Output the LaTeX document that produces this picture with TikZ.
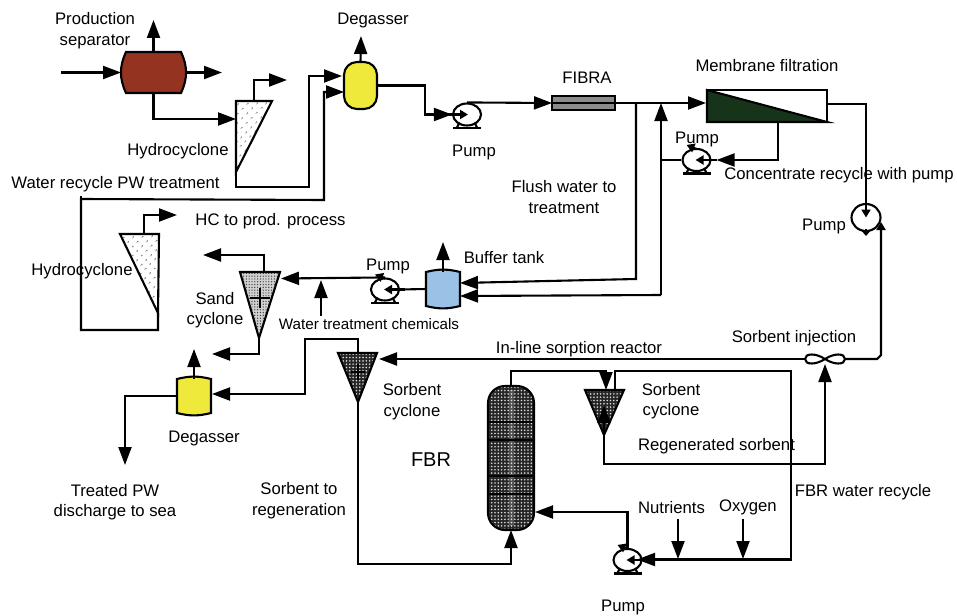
\documentclass[tikz,border=0pt]{standalone}
\usepackage{fontspec}
\setmainfont{Liberation Sans}
\usetikzlibrary{arrows.meta, calc, patterns.meta, shapes.geometric}
\definecolor{sepbrown}{HTML}{943420}
\definecolor{gasyellow}{HTML}{EFE93C}
\definecolor{tankblue}{HTML}{9AC2E6}
\definecolor{membgreen}{HTML}{17341A}
\definecolor{fibragray}{HTML}{8C8C8C}
\tikzset{%
  pipe/.style={line width=2.1pt},
  flow/.style={pipe, -{Triangle[length=18pt,width=13pt]}},
  smallflow/.style={pipe, -{Triangle[length=8pt,width=9pt]}},
  label/.style={font=\fontsize{16.7}{20.5}\selectfont, align=center, inner sep=0pt, yshift=-2pt, text height=12pt, text depth=3.5pt},
  label2/.style={font=\fontsize{16.7}{20.5}\selectfont, align=center, inner sep=0pt},
  unit/.style={rectangle, inner sep=0pt, outer sep=0pt, minimum width=#1},
  sparsedots/.style={pattern={Dots[distance=6.5pt,radius=0.8pt,angle=45]}, pattern color=black!80},
  finedots/.style={preaction={fill=black!18}, pattern={Dots[distance=2.8pt,radius=0.7pt]}, pattern color=black!75},
  darkdots/.style={preaction={fill=black!85}, pattern={Dots[distance=3.3pt,radius=0.9pt]}, pattern color=white!85!black},
}

\begin{document}
\begin{tikzpicture}[x=1pt, y=-1pt]
    \useasboundingbox (0,0) rectangle (957,615);

    %equipment boxes
    \node[unit=65, minimum height=41] (sep) at (153.5,72.5) {};
    \node[unit=33, minimum height=47] (deg1) at (360.5,85.5) {};
    \node[unit=34, minimum height=34] (deg2) at (194,396) {};
    \node[unit=34, minimum height=34] (tank) at (443,289) {};
    \node[unit=63, minimum height=14, draw, line width=2.4pt, fill=fibragray] (fibra) at (583.5,103) {};
    \node[unit=120, minimum height=32, draw, pipe] (memb) at (767,106) {};
    \node[unit=40, minimum height=10] (mix) at (825,359) {};
    \node[unit=46, minimum height=144] (fbr) at (511,458) {};

    %vessels
    \draw[pipe, fill=sepbrown] ($(sep.north west)+(5,0)$) -- ($(sep.north east)+(-5,0)$)
        to[bend left=25] ($(sep.south east)+(-5,0)$) -- ($(sep.south west)+(5,0)$)
        to[bend left=25] cycle;
    \draw[pipe, fill=gasyellow, rounded corners=13pt] (deg1.north west) rectangle (deg1.south east);
    \foreach \tag/\col in {deg2/gasyellow, tank/tankblue}
        \draw[pipe, fill=\col] (\tag.north west) to[bend left=14] (\tag.north east) -- (\tag.south east)
            to[bend left=14] (\tag.south west) -- cycle;
    \draw[pipe, darkdots, rounded corners=17pt] (fbr.north west) rectangle (fbr.south east);
    \fill[white, opacity=0.2] (508.5,390) rectangle (513.5,526);
    \foreach \level in {422,440,476,494}
        \draw[line width=1.2pt] (488,\level) -- (534,\level);

    %membrane and fibra
    \draw[pipe, fill=membgreen] (memb.north west) -- (memb.south east) -- (memb.south west) -- cycle;
    \draw[line width=2pt] (fibra.west) -- (fibra.east);

    %cyclones
    \coordinate (hca1) at (236,101);
    \coordinate (hca2) at (272,101);
    \coordinate (hca3) at (236,172);
    \coordinate (hcb1) at (120,234);
    \coordinate (hcb2) at (159,234);
    \coordinate (hcb3) at (158,313);
    \coordinate (sand1) at (240,272);
    \coordinate (sand2) at (280,272);
    \coordinate (sand3) at (259,338);
    \coordinate (sca1) at (338,353);
    \coordinate (sca2) at (377,353);
    \coordinate (sca3) at (358,402);
    \coordinate (scb1) at (585,390);
    \coordinate (scb2) at (624,390);
    \coordinate (scb3) at (604,435);
    \draw[pipe, sparsedots] (hca1) -- (hca2) -- (hca3) -- cycle;
    \draw[pipe, sparsedots] (hcb1) -- (hcb2) -- (hcb3) -- cycle;
    \draw[pipe, finedots] (sand1) -- (sand2) -- (sand3) -- cycle;
    \draw[pipe, darkdots] (sca1) -- (sca2) -- (sca3) -- cycle;
    \draw[pipe, darkdots] (scb1) -- (scb2) -- (scb3) -- cycle;
    \draw[line width=1.3pt] (250,298) -- (270,298) (260,288) -- (260,308);
    \draw[line width=1.3pt] (351,372) -- (365,372) (358,364) -- (358,380);

    %pumps
    \foreach \tag/\px/\py/\dir in {pumpa/467/114.5/1, pumpb/696.5/160/-1, pumpc/385/289.5/-1, pumpd/627.5/560/-1}{
        \node[ellipse, draw, pipe, inner sep=0pt, minimum width=28, minimum height=22] (\tag) at (\px,\py) {};
        \draw[line width=2.4pt] ($(\tag.center)+(-14,13.5)$) -- ($(\tag.center)+(14,13.5)$);
        \draw[pipe] ($(\tag.center)+(-8,9)$) -- ($(\tag.center)+(-10,13)$) ($(\tag.center)+(8,9)$) -- ($(\tag.center)+(10,13)$);
        \draw[smallflow] ($(\tag.center)+(-\dir*20,0)$) -- ($(\tag.center)+(\dir*1,0)$);
    }
    \foreach \tag in {pumpb, pumpc, pumpd}
        \draw[smallflow] ($(\tag.north)+(0,1)$) -- ($(\tag.north)+(-10,-3)$);
    \node[ellipse, draw, pipe, inner sep=0pt, minimum width=29, minimum height=27] (pumpe) at (866,217.5) {};

    %free ends and bends
    \coordinate (feed) at (61,72.5);
    \coordinate (septop) at (153.5,20);
    \coordinate (sepout) at (222,72.5);
    \coordinate (hcain) at (236,119);
    \coordinate (hcatop) at (254,101);
    \coordinate (hcaout) at (287,80);
    \coordinate (hcalow) at (309,187);
    \coordinate (deg1ina) at (342,76);
    \coordinate (deg1inb) at (344,92);
    \coordinate (deg1top) at (361,36);
    \coordinate (deg1low) at (425,114.5);
    \coordinate (rclow) at (81,330);
    \coordinate (rctop) at (81,199);
    \coordinate (rcstub) at (81,196);
    \coordinate (rcbend) at (324,200);
    \coordinate (hcbtop) at (144,234);
    \coordinate (hcbout) at (177,215);
    \coordinate (membin) at (706,103);
    \coordinate (flushtop) at (636,103);
    \coordinate (flushlow) at (636,279);
    \coordinate (tankina) at (460,283);
    \coordinate (tanktop) at (443,242);
    \coordinate (conctop) at (661,103);
    \coordinate (conclow) at (661,295);
    \coordinate (tankinb) at (460,296);
    \coordinate (memblow) at (778,122);
    \coordinate (membout) at (827,104);
    \coordinate (pumpeout) at (881,222);
    \coordinate (mixbend) at (881,355);
    \coordinate (mixright) at (877,359);
    \coordinate (scain) at (379,359);
    \coordinate (scatop) at (358,353);
    \coordinate (scabend) at (305,339);
    \coordinate (deg2in) at (212,394);
    \coordinate (deg2top) at (194,349);
    \coordinate (seaout) at (125,465);
    \coordinate (regen) at (358,564);
    \coordinate (scbbend) at (606,371);
    \coordinate (scbin) at (606,390);
    \coordinate (scbtop) at (615,390);
    \coordinate (frtop) at (791,371);
    \coordinate (frlow) at (791,559.5);
    \coordinate (pumpdin) at (637,559.5);
    \coordinate (scblow) at (825,464);
    \coordinate (fbrin) at (535,512);
    \coordinate (nutria) at (678,519);
    \coordinate (nutrib) at (678,559);
    \coordinate (oxya) at (743,519);
    \coordinate (oxyb) at (743,559);
    \coordinate (chema) at (321,316);
    \coordinate (chemb) at (321,280);
    \coordinate (sandin) at (281,278.5);
    \coordinate (sandtop) at (264,272);
    \coordinate (sandout) at (203,255);
    \coordinate (sandlow) at (212,354);

    %pipes of the upper train
    \draw[flow] (feed) -- (sep.west);
    \draw[flow] (sep.north) -- (septop);
    \draw[flow] (sep.east) -- (sepout);
    \draw[flow] (sep.south) |- (hcain);
    \draw[flow] (hcatop) |- (hcaout);
    \draw[flow] (hca3) |- (hcalow) |- (deg1ina);
    \draw[pipe] (rcstub) -- (rctop);
    \draw[flow] (hcb3) |- (rclow) -- (rctop) -- (rcbend) |- (deg1inb);
    \draw[flow] (hcbtop) |- (hcbout);
    \draw[flow] (deg1.north) -- (deg1top);
    \draw[flow] (deg1.east) -| (deg1low) -- (pumpa.west);
    \draw[flow] (pumpa.north) -- (fibra.west);
    \draw[flow] (fibra.east) -- (membin);
    \draw[flow] (flushtop) -- (flushlow) -- (tankina);
    \draw[flow] (conclow) -- (conctop);
    \draw[flow] (conclow) -- (tankinb);
    \draw[pipe] (pumpb.west) -- (pumpb.west -| conclow);
    \draw[flow] (memblow) |- ($(pumpb.east)+(5,0)$);
    \draw[smallflow] (membout) -| (pumpe.center);
    \draw[smallflow] (mix.east) -- (mixright) -- (mixbend) -- (pumpeout);
    \draw[pipe, -{Triangle[length=5pt,width=8pt]}] ($(pumpe.south)+(0,-3)$) -- ($(pumpe.south)+(0,4)$);

    %pipes of the lower train
    \draw[flow] (tank.north) -- (tanktop);
    \draw[pipe] (tank.west) -- (pumpc.east);
    \draw[flow] (pumpc.north) -- (sandin);
    \draw[flow] (chema) -- (chemb);
    \draw[flow] (sandtop) |- (sandout);
    \draw[flow] (sand3) |- (sandlow);
    \draw[flow] (mix.west) -- (scain);
    \draw[flow] (scatop) |- (scabend) |- (deg2in);
    \draw[flow] (deg2.north) -- (deg2top);
    \draw[flow] (deg2.west) -| (seaout);
    \draw[flow] (sca3) -- (regen) -| (fbr.south);
    \draw[flow] (fbr.north) |- (scbbend) -- (scbin);
    \draw[flow] (scbtop) |- (frtop) -- (frlow) -- (pumpdin);
    \draw[flow] (scb3) -- ($(scb3)+(0,-30)$);
    \draw[flow] (scb3) |- (scblow) -- (mix.south);
    \draw[flow] (pumpd.north) |- (fbrin);
    \draw[flow] (nutria) -- (nutrib);
    \draw[flow] (oxya) -- (oxyb);

    %sorbent injection valve
    \draw[pipe, fill=white, shift={(mix.center)}] (0,0) .. controls (-9,-6) and (-20,-6) .. (-20,0)
        .. controls (-20,6) and (-9,6) .. (0,0) .. controls (9,-6) and (20,-6) .. (20,0)
        .. controls (20,6) and (9,6) .. (0,0);

    %labels
    \node[label2] (lbsep) at (95,30.5) {Production\\separator};
    \node[label] (lbdega) at (373,18) {Degasser};
    \node[label] (lbfibra) at (587,77) {FIBRA};
    \node[label] (lbmemb) at (767,65) {Membrane filtration};
    \node[label] (lbpumpa) at (474,150) {Pump};
    \node[label] (lbhca) at (178,149) {Hydrocyclone};
    \node[label] (lbrecycle) at (115.5,182) {Water recycle PW treatment};
    \node[label] (lbhc) at (270.5,219) {HC to prod. process};
    \node[label] (lbpumpb) at (697,137) {Pump};
    \node[label] (lbconc) at (839,173) {Concentrate recycle with pump};
    \node[label2] (lbflush) at (564,197) {Flush water to\\treatment};
    \node[label] (lbpumpe) at (824,224) {Pump};
    \node[label] (lbtank) at (504,257) {Buffer tank};
    \node[label] (lbpumpc) at (388,264) {Pump};
    \node[label] (lbhcb) at (82,269) {Hydrocyclone};
    \node[label2] (lbsand) at (215,310) {Sand\\cyclone};
    \node[label, font=\fontsize{15.2}{18}\selectfont] (lbchem) at (369,323) {Water treatment chemicals};
    \node[label] (lbinline) at (579,347) {In-line sorption reactor};
    \node[label] (lbinject) at (794,336) {Sorbent injection};
    \node[label2] (lbsca) at (412,401.5) {Sorbent\\cyclone};
    \node[label2] (lbscb) at (671,401) {Sorbent\\cyclone};
    \node[label] (lbdegb) at (204,436) {Degasser};
    \node[label, font=\fontsize{20}{24}\selectfont] (lbfbr) at (431,460) {FBR};
    \node[label] (lbregen) at (716.5,444) {Regenerated sorbent};
    \node[label] (lbfbrw) at (863,490) {FBR water recycle};
    \node[label2] (lbsea) at (115,502) {Treated PW\\discharge to sea};
    \node[label2] (lbtoreg) at (299,500.5) {Sorbent to\\regeneration};
    \node[label] (lbnutri) at (671.5,507) {Nutrients};
    \node[label] (lboxy) at (748,505) {Oxygen};
    \node[label] (lbpumpd) at (623,605) {Pump};
\end{tikzpicture}
\end{document}
